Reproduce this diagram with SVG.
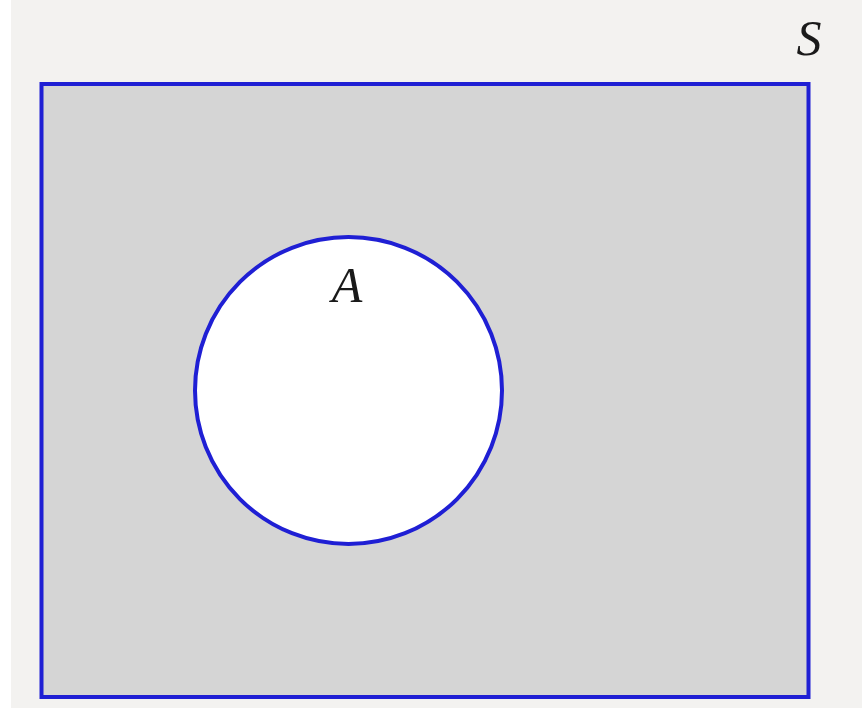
<svg xmlns="http://www.w3.org/2000/svg" width="862" height="719" viewBox="0 0 862 719">
<style>
.lbl{font-family:"Liberation Serif","DejaVu Serif",serif;font-style:italic;font-size:50px;fill:#1a1a1a;text-anchor:middle}
.edge{stroke:#1f1fd4;stroke-width:4;}
</style>
<rect x="0" y="0" width="862" height="719" fill="#ffffff"/>
<rect x="11" y="0" width="851" height="708" fill="#f3f2f0"/>
<g id="S">
<rect class="edge" x="41.5" y="84" width="767" height="613" fill="#d5d5d5"/>
<text class="lbl" x="809" y="55">S</text>
</g>
<g id="A">
<circle class="edge" cx="348.5" cy="390.5" r="153.5" fill="#ffffff"/>
<text class="lbl" x="347" y="302">A</text>
</g>
</svg>
